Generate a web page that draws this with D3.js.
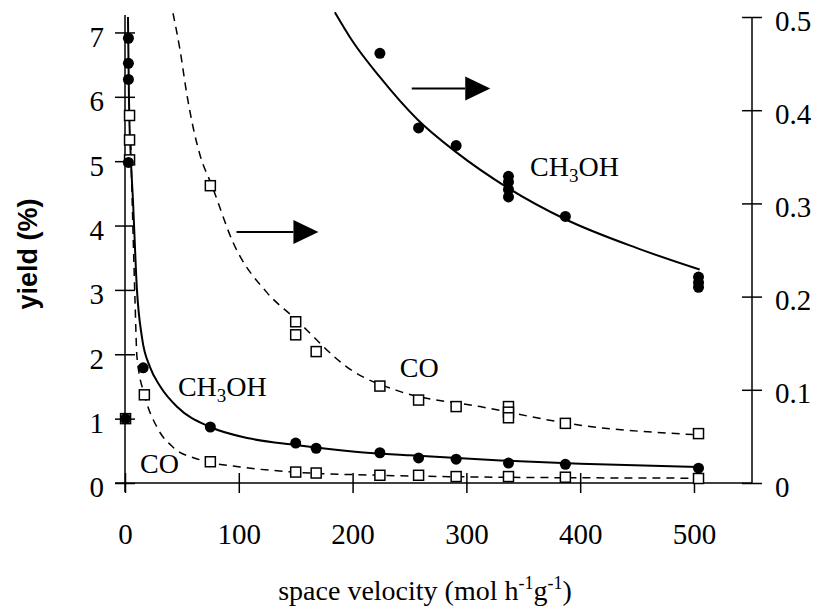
<!DOCTYPE html>
<html>
<head>
<meta charset="utf-8">
<script src="https://cdn.jsdelivr.net/npm/d3@7"></script>
<style>
    body { margin: 0; background: #fff; }
    svg { display: block; }
    .axis text { font-family: "Liberation Serif", "Times New Roman", serif; font-size: 29px; fill: #000; }
    .axis line { stroke: #000; stroke-width: 1.5; }
    .lbl { font-family: "Liberation Serif", "Times New Roman", serif; font-size: 28px; fill: #000; }
</style>
</head>
<body>
<div id="chart"></div>
<script>
// x-ticks (space velocity) en tick labels
const xTicks = [0, 100, 200, 300, 400, 500];
const yLeftTicks = [0, 1, 2, 3, 4, 5, 6, 7];
const yRightTicks = [0, 0.1, 0.2, 0.3, 0.4, 0.5];

// meetpunten, linker as (yield %)
const ch3ohLeftSv = [3, 3, 3, 3, 0.5, 16, 75, 150, 168, 224, 258, 291, 337, 387, 504];
const ch3ohLeftVal = [6.91, 6.52, 6.27, 4.98, 1.0, 1.79, 0.87, 0.62, 0.54, 0.47, 0.39, 0.37, 0.31, 0.29, 0.23];
const coLeftSv = [4, 4, 4, 0.5, 17, 75, 150, 168, 224, 258, 291, 337, 387, 504];
const coLeftVal = [5.71, 5.33, 5.02, 1.0, 1.37, 0.33, 0.17, 0.155, 0.12, 0.12, 0.10, 0.10, 0.09, 0.07];

// meetpunten, rechter as
const ch3ohRightSv = [224, 258, 291, 337, 337, 337, 337, 387, 504, 504, 504];
const ch3ohRightVal = [0.461, 0.381, 0.362, 0.329, 0.323, 0.315, 0.307, 0.286, 0.221, 0.215, 0.210];
const coRightSv = [75, 150, 150, 168, 224, 258, 291, 337, 337, 337, 387, 504];
const coRightVal = [0.319, 0.173, 0.159, 0.141, 0.104, 0.089, 0.082, 0.082, 0.076, 0.070, 0.064, 0.053];

// fitlijnen
const ch3ohLeftFitSv = [2.6, 3.5, 5, 7, 10.5, 15, 22, 31, 46, 75, 110, 150, 200, 250, 330, 400, 504];
const ch3ohLeftFitVal = [7.24, 5.95, 5.1, 4.39, 3.0, 2.25, 1.8, 1.5, 1.18, 0.87, 0.69, 0.59, 0.49, 0.43, 0.35, 0.3, 0.25];
const coLeftFitSv = [5, 7, 8.8, 10.5, 17.6, 28, 42, 66, 101, 148, 224, 330, 504];
const coLeftFitVal = [5.3, 3.93, 2.84, 1.96, 1.34, 0.87, 0.56, 0.36, 0.25, 0.17, 0.12, 0.09, 0.075];
const ch3ohRightFitSv = [184.5, 200, 223, 257, 291, 336, 387, 450, 505];
const ch3ohRightFitVal = [0.505, 0.474, 0.437, 0.39, 0.355, 0.317, 0.283, 0.252, 0.229];
const coRightFitSv = [42.2, 48.3, 54.5, 59.8, 65.9, 76.4, 95, 125, 148, 199, 242, 312, 400, 499];
const coRightFitVal = [0.504, 0.465, 0.416, 0.382, 0.352, 0.319, 0.258, 0.204, 0.178, 0.121, 0.098, 0.082, 0.062, 0.052];

const width = 817, height = 616;
const svg = d3.select("#chart").append("svg")
    .attr("width", width)
    .attr("height", height);

const x = d3.scaleLinear().domain([0, 551]).range([125, 752]);
const yL = d3.scaleLinear().domain([0, 7.24]).range([483, 17]);
const yR = d3.scaleLinear().domain([0, 0.5]).range([483, 17]);

const zip = (a, b) => a.map((v, i) => [v, b[i]]);

// assen
const xAxis = svg.append("g").attr("class", "axis")
    .attr("transform", `translate(0,${yL(0)})`)
    .call(d3.axisBottom(x).tickValues(xTicks).tickFormat(d3.format("d")));
xAxis.select(".domain").remove();
xAxis.selectAll(".tick line").attr("y1", -10).attr("y2", 10);
xAxis.selectAll(".tick text").attr("y", 61).attr("dy", null);

const lAxis = svg.append("g").attr("class", "axis")
    .attr("transform", `translate(${x(0)},0)`)
    .call(d3.axisLeft(yL).tickValues(yLeftTicks).tickFormat(d3.format("d")));
lAxis.select(".domain").remove();
lAxis.selectAll(".tick line").attr("x1", -10).attr("x2", 10);
lAxis.selectAll(".tick text").attr("x", -21).attr("dy", "0.48em");

const rAxis = svg.append("g").attr("class", "axis")
    .attr("transform", `translate(${x(551)},0)`)
    .call(d3.axisRight(yR).tickValues(yRightTicks).tickFormat(d => d === 0 ? "0" : d3.format(".1f")(d)));
rAxis.select(".domain").remove();
rAxis.selectAll(".tick line").attr("x1", -10).attr("x2", 10);
rAxis.selectAll(".tick text").attr("x", 23).attr("dy", "0.45em");

// aslijnen
svg.append("line").attr("x1", 115).attr("x2", x(551)).attr("y1", yL(0)).attr("y2", yL(0))
    .attr("stroke", "#000").attr("stroke-width", 1.5);
svg.append("line").attr("x1", x(0)).attr("x2", x(0)).attr("y1", 15).attr("y2", 492)
    .attr("stroke", "#000").attr("stroke-width", 1.5);
svg.append("line").attr("x1", x(551)).attr("x2", x(551)).attr("y1", yR(0.5)).attr("y2", yR(0))
    .attr("stroke", "#000").attr("stroke-width", 1.5);

// fitlijnen
const lineL = d3.line().x(d => x(d[0])).y(d => yL(d[1])).curve(d3.curveMonotoneX);
const lineR = d3.line().x(d => x(d[0])).y(d => yR(d[1])).curve(d3.curveMonotoneX);

const fits = [
    { pts: zip(ch3ohLeftFitSv, ch3ohLeftFitVal), gen: lineL, dash: null, w: 2 },
    { pts: zip(coLeftFitSv, coLeftFitVal), gen: lineL, dash: "8,6", w: 1.5 },
    { pts: zip(ch3ohRightFitSv, ch3ohRightFitVal), gen: lineR, dash: null, w: 2 },
    { pts: zip(coRightFitSv, coRightFitVal), gen: lineR, dash: "8,6", w: 1.5 }
];
fits.forEach(f => {
    svg.append("path")
        .attr("d", f.gen(f.pts))
        .attr("fill", "none")
        .attr("stroke", "#000")
        .attr("stroke-width", f.w)
        .attr("stroke-dasharray", f.dash);
});

// open vierkantjes (CO)
const squares = zip(coLeftSv, coLeftVal).map(d => [x(d[0]), yL(d[1])])
    .concat(zip(coRightSv, coRightVal).map(d => [x(d[0]), yR(d[1])]));
svg.selectAll(".sq")
    .data(squares)
    .enter()
    .append("rect")
    .attr("class", "sq")
    .attr("x", d => d[0] - 5)
    .attr("y", d => d[1] - 5)
    .attr("width", 10)
    .attr("height", 10)
    .attr("fill", "#fff")
    .attr("stroke", "#000")
    .attr("stroke-width", 1.5);

// gevulde bolletjes (CH3OH)
const dots = zip(ch3ohLeftSv, ch3ohLeftVal).map(d => [x(d[0]), yL(d[1])])
    .concat(zip(ch3ohRightSv, ch3ohRightVal).map(d => [x(d[0]), yR(d[1])]));
svg.selectAll(".dot")
    .data(dots)
    .enter()
    .append("circle")
    .attr("class", "dot")
    .attr("cx", d => d[0])
    .attr("cy", d => d[1])
    .attr("r", 5.5)
    .attr("fill", "#000");

// pijlen naar de rechter as
const arrows = [
    { from: 98, head: 148, to: 170, y: 3.9 },
    { from: 252, head: 299, to: 321, y: 6.13 }
];
arrows.forEach(a => {
    svg.append("line")
        .attr("x1", x(a.from)).attr("x2", x(a.head))
        .attr("y1", yL(a.y)).attr("y2", yL(a.y))
        .attr("stroke", "#000").attr("stroke-width", 2);
    svg.append("path")
        .attr("d", `M${x(a.head)},${yL(a.y) - 12}L${x(a.to)},${yL(a.y)}L${x(a.head)},${yL(a.y) + 12}Z`)
        .attr("fill", "#000");
});

// labels bij de curves
function chemLabel(px, py, parts) {
    const t = svg.append("text").attr("class", "lbl").attr("x", px).attr("y", py);
    parts.forEach(p => {
        if (p.sub) {
            t.append("tspan").attr("font-size", "19px").attr("dy", 6).text(p.t);
        } else {
            t.append("tspan").attr("dy", p.after ? -6 : 0).text(p.t);
        }
    });
}
chemLabel(x(356), 176, [{ t: "CH" }, { t: "3", sub: true }, { t: "OH", after: true }]);
chemLabel(x(46.5), 396, [{ t: "CH" }, { t: "3", sub: true }, { t: "OH", after: true }]);
chemLabel(x(241.5), 377, [{ t: "CO" }]);
chemLabel(x(13.2), 473, [{ t: "CO" }]);

// astitels
const xt = svg.append("text").attr("class", "lbl")
    .attr("x", 425).attr("y", 600)
    .attr("text-anchor", "middle");
xt.append("tspan").text("space velocity (mol h");
xt.append("tspan").attr("font-size", "18px").attr("dy", -11).text("-1");
xt.append("tspan").attr("dy", 11).text("g");
xt.append("tspan").attr("font-size", "18px").attr("dy", -11).text("-1");
xt.append("tspan").attr("dy", 11).text(")");

svg.append("text")
    .attr("transform", "translate(37,254) rotate(-90)")
    .attr("text-anchor", "middle")
    .attr("font-family", "'Liberation Sans', Arial, sans-serif")
    .attr("font-weight", "bold")
    .attr("font-size", "27px")
    .text("yield (%)");
</script>
</body>
</html>
